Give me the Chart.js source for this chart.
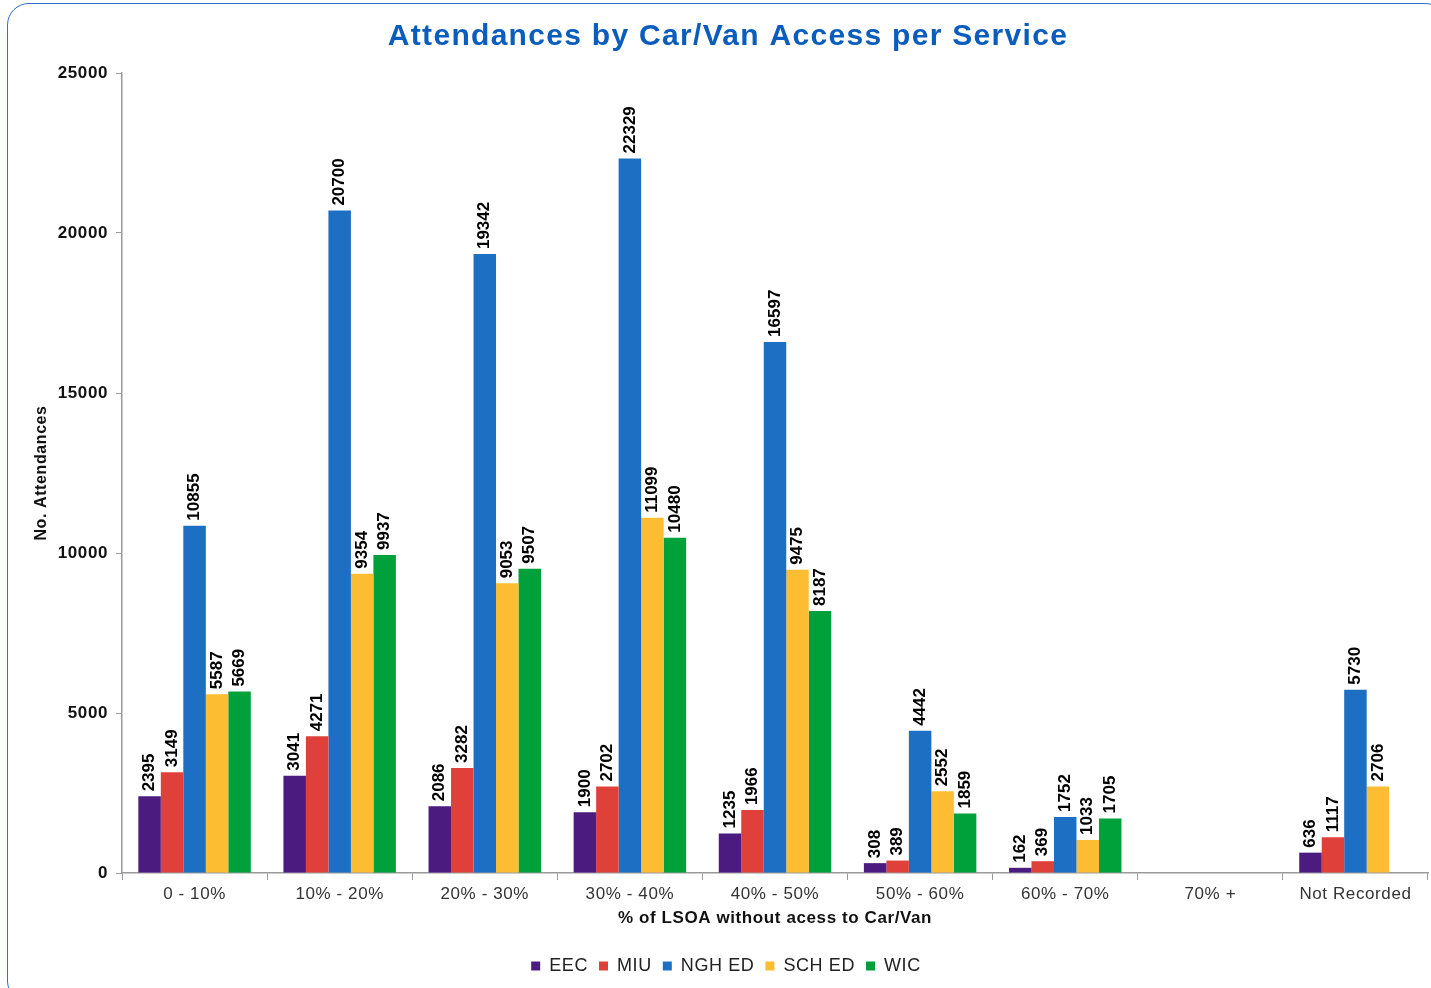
<!DOCTYPE html>
<html>
<head>
<meta charset="utf-8">
<script src="https://cdn.jsdelivr.net/npm/chart.js@4/dist/chart.umd.min.js"></script>
<style>
  html, body { margin: 0; padding: 0; background: #fff; overflow: hidden; }
  #wrap { position: relative; width: 1431px; height: 988px; }
  #frame { position: absolute; left: 7px; top: 3px; width: 1440px; height: 1000px;
           border: 1.5px solid #2f6fc6; border-radius: 22px; box-sizing: border-box; }
  canvas { position: absolute; left: 0; top: 0; }
</style>
</head>
<body>
<div id="wrap">
  <div id="frame"></div>
  <canvas id="attChart" width="1431" height="988"></canvas>
</div>
<script>
(function() {
  // categories (x axis) and the five services
  const categories = ['0 - 10%', '10% - 20%', '20% - 30%', '30% - 40%', '40% - 50%',
                      '50% - 60%', '60% - 70%', '70% +', 'Not Recorded'];
  const eec   = [2395, 3041, 2086, 1900, 1235, 308, 162, null, 636];
  const miu   = [3149, 4271, 3282, 2702, 1966, 389, 369, null, 1117];
  const nghEd = [10855, 20700, 19342, 22329, 16597, 4442, 1752, null, 5730];
  const schEd = [5587, 9354, 9053, 11099, 9475, 2552, 1033, null, 2706];
  const wic   = [5669, 9937, 9507, 10480, 8187, 1859, 1705, null, null];
  const yTicks = [0, 5000, 10000, 15000, 20000, 25000];

  const FONT = '"Liberation Sans", Arial, sans-serif';

  function ds(label, data, color){
    return { label: label, data: data, backgroundColor: color, borderColor: color,
             borderWidth: 0, barPercentage: 1.0, categoryPercentage: 0.775 };
  }

  // letterSpacing for the whole canvas - the original text is slightly spaced out
  const spacing = {
    id: 'spacing',
    beforeLayout: function(chart){ chart.ctx.letterSpacing = '0.6px'; },
    beforeDraw: function(chart){ chart.ctx.letterSpacing = '0.6px'; }
  };

  // title drawn by hand so it can have wider letter spacing
  const bigTitle = {
    id: 'bigTitle',
    afterDraw: function(chart){
      const ctx = chart.ctx;
      ctx.save();
      ctx.letterSpacing = '1.3px';
      ctx.font = 'bold 30px ' + FONT;
      ctx.fillStyle = '#0b5dbd';
      ctx.textAlign = 'center';
      ctx.textBaseline = 'middle';
      ctx.fillText('Attendances by Car/Van Access per Service', 728, 37);
      ctx.restore();
    }
  };

  // rotated value labels above each bar
  const barLabels = {
    id: 'barLabels',
    afterDatasetsDraw: function(chart){
      const ctx = chart.ctx;
      ctx.save();
      ctx.letterSpacing = '0px';
      ctx.font = 'bold 17px ' + FONT;
      ctx.fillStyle = '#000';
      ctx.textAlign = 'left';
      ctx.textBaseline = 'middle';
      chart.data.datasets.forEach(function(d, i){
        const meta = chart.getDatasetMeta(i);
        meta.data.forEach(function(bar, j){
          const v = d.data[j];
          if(v === null || v === undefined) return;
          ctx.save();
          ctx.translate(bar.x, bar.y - 5);
          ctx.rotate(-Math.PI / 2);
          ctx.fillText(String(v), 0, 0);
          ctx.restore();
        });
      });
      ctx.restore();
    }
  };

  const canvas = document.getElementById('attChart');
  new Chart(canvas.getContext('2d'), {
    type: 'bar',
    data: {
      labels: categories,
      datasets: [
        ds('EEC', eec, '#4b1b7f'),
        ds('MIU', miu, '#e0403a'),
        ds('NGH ED', nghEd, '#1c6fc3'),
        ds('SCH ED', schEd, '#fdbd33'),
        ds('WIC', wic, '#00a13a')
      ]
    },
    options: {
      responsive: false,
      animation: false,
      devicePixelRatio: 1,
      layout: { padding: { left: 24, right: 3, top: 73, bottom: 3 } },
      scales: {
        x: {
          grid: { display: true, drawOnChartArea: false, offset: true, color: '#9a9a9a', tickLength: 7 },
          border: { color: '#9a9a9a', width: 1.5 },
          ticks: { color: '#333', font: { family: FONT, size: 17 }, padding: 4 },
          title: { display: true, text: '% of LSOA without acess to Car/Van', color: '#111',
                   font: { family: FONT, size: 17, weight: 'bold' }, padding: { top: 0, bottom: 17 } },
          afterFit: function(s){ s.height = 73; }
        },
        y: {
          min: 0, max: 25000,
          afterBuildTicks: function(s){ s.ticks = yTicks.map(v => ({ value: v })); },
          grid: { display: true, drawOnChartArea: false, color: '#9a9a9a', tickLength: 6 },
          border: { color: '#9a9a9a', width: 1.5 },
          ticks: { color: '#111', font: { family: FONT, size: 17, weight: 'bold' }, padding: 8,
                   callback: function(v){ return String(v); } },
          title: { display: true, text: 'No. Attendances', color: '#111',
                   font: { family: FONT, size: 16, weight: 'bold' }, padding: { top: 8, bottom: 4 } },
          afterFit: function(s){ s.width = 98; }
        }
      },
      plugins: {
        title: { display: false },
        legend: {
          position: 'bottom',
          labels: { color: '#222', font: { family: FONT, size: 18 }, boxWidth: 9, boxHeight: 9,
                    padding: 11 }
        },
        tooltip: { enabled: false }
      }
    },
    plugins: [spacing, barLabels, bigTitle]
  });
})();
</script>
</body>
</html>
